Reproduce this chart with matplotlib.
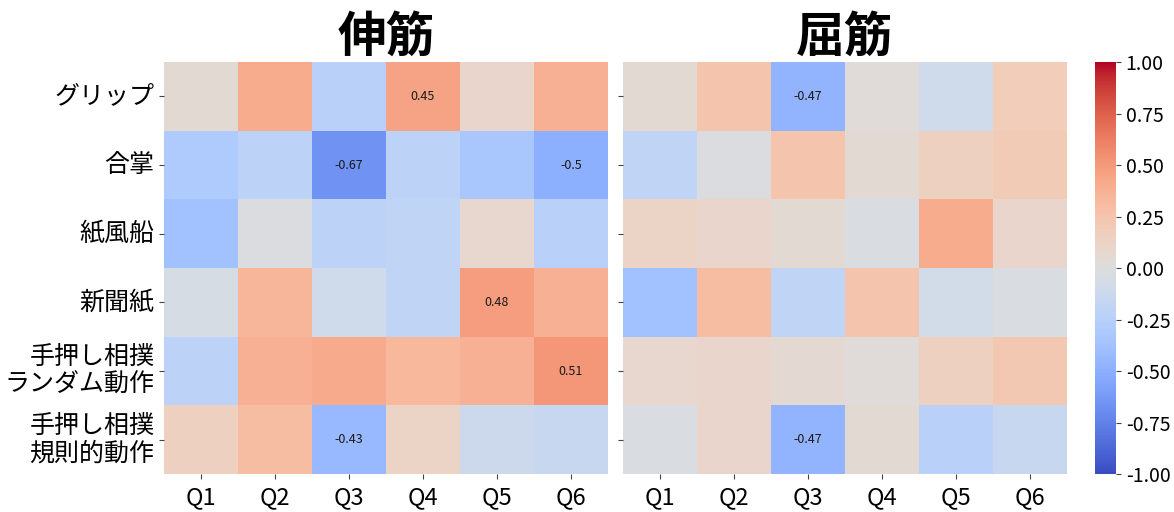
import numpy as np
import matplotlib
matplotlib.use("Agg")
import matplotlib.pyplot as plt
import seaborn as sns

plt.rcParams['font.family'] = ['Noto Sans CJK JP', 'DejaVu Sans']

tasks = ['グリップ', '合掌', '紙風船', '新聞紙', '手押し相撲\nランダム動作', '手押し相撲\n規則的動作']
questions = ['Q1', 'Q2', 'Q3', 'Q4', 'Q5', 'Q6']

# 相関係数 (行: 課題, 列: 質問)
extensor = np.array([
    [0.05, 0.40, -0.25, 0.45, 0.10, 0.38],
    [-0.30, -0.22, -0.67, -0.22, -0.33, -0.50],
    [-0.38, -0.02, -0.22, -0.20, 0.08, -0.25],
    [-0.05, 0.35, -0.10, -0.20, 0.48, 0.38],
    [-0.22, 0.38, 0.41, 0.33, 0.38, 0.51],
    [0.15, 0.30, -0.43, 0.12, -0.12, -0.15],
])
flexor = np.array([
    [0.05, 0.25, -0.47, 0.03, -0.10, 0.18],
    [-0.20, -0.02, 0.25, 0.05, 0.15, 0.20],
    [0.12, 0.10, 0.05, -0.03, 0.40, 0.10],
    [-0.38, 0.30, -0.20, 0.25, -0.08, -0.03],
    [0.08, 0.10, 0.06, 0.03, 0.15, 0.22],
    [-0.03, 0.10, -0.47, 0.05, -0.25, -0.15],
])
titles = ['伸筋', '屈筋']
threshold = 0.43


def labels_for(values):
    # 絶対値が閾値以上のセルだけ数値を表示
    out = np.empty(values.shape, dtype=object)
    for i in range(values.shape[0]):
        for j in range(values.shape[1]):
            v = values[i, j]
            out[i, j] = f'{round(v, 2):g}' if abs(v) >= threshold else ''
    return out


fig = plt.figure(figsize=(11.74, 5.12), dpi=100)
ax1 = fig.add_axes([0.1397, 0.0742, 0.3782, 0.8047])
ax2 = fig.add_axes([0.5307, 0.0742, 0.3782, 0.8047])
cax = fig.add_axes([0.9327, 0.0742, 0.0179, 0.8047])

for k, (ax, data) in enumerate(zip([ax1, ax2], [extensor, flexor])):
    sns.heatmap(data, ax=ax, cmap='coolwarm', vmin=-1, vmax=1,
                annot=labels_for(data), fmt='', annot_kws={'size': 9, 'color': '#1a1a1a'},
                cbar=(k == 1), cbar_ax=cax if k == 1 else None,
                xticklabels=questions, yticklabels=tasks if k == 0 else False)
    ax.set_title(titles[k], fontsize=35, fontweight='bold', pad=2)
    ax.tick_params(axis='x', labelsize=17, length=3.5, color='#444444', rotation=0, pad=5)
    ax.tick_params(axis='y', labelsize=18, length=3.5, color='#444444')
    if k == 1:
        ax.set_yticks(np.arange(len(tasks)) + 0.5)
        ax.set_yticklabels([])
    else:
        ax.set_yticklabels(tasks, rotation=0, ha='right', multialignment='right',
                           linespacing=1.1)

cax.set_yticks([-1, -0.75, -0.5, -0.25, 0, 0.25, 0.5, 0.75, 1])
cax.set_yticklabels([f'{t:.2f}' for t in [-1, -0.75, -0.5, -0.25, 0, 0.25, 0.5, 0.75, 1]])
cax.tick_params(labelsize=14, length=3.5, color='#444444')

fig.savefig('out.png', dpi=100)
